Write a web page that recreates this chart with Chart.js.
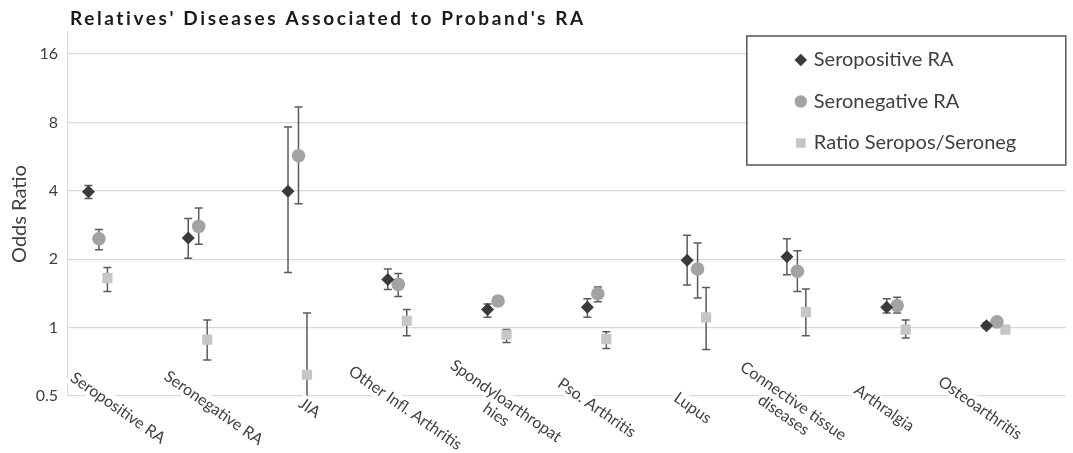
<!DOCTYPE html>
<html>
<head>
<meta charset="utf-8">
<script src="https://cdn.jsdelivr.net/npm/chart.js@4.4.1/dist/chart.umd.min.js"></script>
<style>
  html, body { margin: 0; padding: 0; background: #fff; }
</style>
</head>
<body>
<canvas id="orChart" width="1073" height="453"></canvas>
<script>
// Relatives' diseases (two-line labels kept as in the figure)
const categories = [
    ['Seropositive RA'], ['Seronegative RA'], ['JIA'], ['Other Infl. Arthritis'],
    ['Spondyloarthropat', 'hies'], ['Pso. Arthritis'], ['Lupus'],
    ['Connective tissue', 'diseases'], ['Arthralgia'], ['Osteoarthritis']
];

// Odds ratios and CI bounds
const seroposOR   = [3.96, 2.48, 3.98, 1.63, 1.20, 1.23, 1.98, 2.05, 1.23, 1.02];
const seroposLow  = [3.70, 2.02, 1.75, 1.47, 1.11, 1.11, 1.54, 1.71, 1.16, 0.99];
const seroposHigh = [4.22, 3.02, 7.64, 1.81, 1.27, 1.34, 2.55, 2.46, 1.34, 1.05];

const seronegOR   = [2.46, 2.79, 5.71, 1.55, 1.31, 1.41, 1.81, 1.77, 1.25, 1.06];
const seronegLow  = [2.20, 2.33, 3.51, 1.37, 1.25, 1.30, 1.35, 1.44, 1.16, 1.03];
const seronegHigh = [2.70, 3.36, 9.36, 1.73, 1.37, 1.51, 2.36, 2.18, 1.36, 1.09];

const ratioOR   = [1.65, 0.886, 0.62, 1.07, 0.93, 0.89, 1.11, 1.17, 0.98, 0.98];
const ratioLow  = [1.44, 0.72, 0.45, 0.92, 0.86, 0.81, 0.80, 0.92, 0.90, 0.95];
const ratioHigh = [1.84, 1.08, 1.16, 1.20, 0.98, 0.96, 1.50, 1.48, 1.08, 1.01];

const yTicks = [0.5, 1, 2, 4, 8, 16];

const TEXT = '#404040';
Chart.defaults.font.family = 'Lato';
Chart.defaults.color = TEXT;

// each series sits at its own offset inside the category slot
function buildPoints(values, low, high, offset) {
    return values.map((v, i) => ({ x: i + offset, y: v, low: low[i], high: high[i] }));
}

const series = [
    { label: 'Seropositive RA', values: seroposOR, low: seroposLow, high: seroposHigh,
      offset: 0.205, color: '#3a3a3a', style: 'rectRot', radius: 6.5 },
    { label: 'Seronegative RA', values: seronegOR, low: seronegLow, high: seronegHigh,
      offset: 0.31, color: '#a3a3a3', style: 'circle', radius: 6.8 },
    { label: 'Ratio Seropos/Seroneg', values: ratioOR, low: ratioLow, high: ratioHigh,
      offset: 0.395, color: '#c6c6c6', style: 'rect', radius: 7.2 }
];

// Error bars drawn under the markers
const errorBars = {
    id: 'errorBars',
    beforeDatasetsDraw(chart) {
        const { ctx, chartArea, scales: { y } } = chart;
        ctx.save();
        ctx.beginPath();
        ctx.rect(chartArea.left, chartArea.top, chartArea.width, chartArea.height);
        ctx.clip();
        ctx.strokeStyle = '#5a5a5a';
        ctx.lineWidth = 1.5;
        chart.data.datasets.forEach((ds, di) => {
            chart.getDatasetMeta(di).data.forEach((pt, i) => {
                const d = ds.data[i];
                const top = y.getPixelForValue(d.high);
                const bot = y.getPixelForValue(d.low);
                ctx.beginPath();
                ctx.moveTo(pt.x, top); ctx.lineTo(pt.x, bot);
                ctx.moveTo(pt.x - 4, top); ctx.lineTo(pt.x + 4, top);
                ctx.moveTo(pt.x - 4, bot); ctx.lineTo(pt.x + 4, bot);
                ctx.stroke();
            });
        });
        ctx.restore();
    }
};

// Rotated category labels with white backing (they cut the 0.5 gridline).
// The label slots are a little narrower than the point slots in the original.
const categoryLabels = {
    id: 'categoryLabels',
    afterDraw(chart) {
        const { ctx, chartArea, scales: { x } } = chart;
        const lh = 17;
        ctx.save();
        ctx.font = '16px Lato';
        ctx.textAlign = 'center';
        ctx.textBaseline = 'middle';
        categories.forEach((lines, i) => {
            const cx = x.getPixelForValue(0.5 + 0.96 * i);
            const cy = chartArea.bottom + 12;
            ctx.save();
            ctx.translate(cx, cy);
            ctx.rotate(35 * Math.PI / 180);
            lines.forEach((t, k) => {
                const ty = (k - (lines.length - 1) / 2) * lh;
                const w = ctx.measureText(t).width;
                ctx.fillStyle = '#fff';
                ctx.fillRect(-w / 2 - 2, ty - lh / 2, w + 4, lh);
                ctx.fillStyle = TEXT;
                ctx.fillText(t, 0, ty);
            });
            ctx.restore();
        });
        ctx.restore();
    }
};

// Title + boxed legend in the top right corner
const titleAndLegend = {
    id: 'titleAndLegend',
    afterDraw(chart) {
        const { ctx, chartArea } = chart;
        ctx.save();
        ctx.font = 'bold 19px Lato';
        ctx.letterSpacing = '2.6px';
        ctx.fillStyle = '#1a1a1a';
        ctx.textAlign = 'left';
        ctx.textBaseline = 'alphabetic';
        ctx.fillText("Relatives' Diseases Associated to Proband's RA", 70, 25);
        ctx.restore();

        const boxW = 319, boxH = 129;
        const bx = chartArea.right - boxW, by = chartArea.top + 4;
        ctx.save();
        ctx.fillStyle = '#fff';
        ctx.fillRect(bx, by, boxW, boxH);
        ctx.strokeStyle = '#555';
        ctx.lineWidth = 1.5;
        ctx.strokeRect(bx, by, boxW, boxH);
        ctx.font = '20px Lato';
        ctx.textBaseline = 'middle';
        ctx.textAlign = 'left';
        series.forEach((s, k) => {
            const iy = by + 24 + k * 41.5;
            ctx.fillStyle = s.color;
            ctx.strokeStyle = s.color;
            Chart.helpers.drawPoint(ctx, { pointStyle: s.style, rotation: 0, radius: s.radius * 0.8, borderWidth: 1 }, bx + 54, iy);
            ctx.fillStyle = TEXT;
            ctx.fillText(s.label, bx + 67, iy);
        });
        ctx.restore();
    }
};

const ctx = document.getElementById('orChart');
new Chart(ctx, {
    type: 'scatter',
    data: {
        datasets: series.map(s => ({
            label: s.label,
            data: buildPoints(s.values, s.low, s.high, s.offset),
            pointStyle: s.style,
            pointRadius: s.radius,
            pointHoverRadius: s.radius,
            backgroundColor: s.color,
            borderColor: s.color,
            pointBorderWidth: 0,
            showLine: false
        }))
    },
    options: {
        responsive: false,
        devicePixelRatio: 1,
        animation: false,
        layout: { padding: { top: 32, right: 5, bottom: 57, left: 0 } },
        plugins: {
            legend: { display: false },
            title: { display: false },
            tooltip: { enabled: false }
        },
        scales: {
            x: { type: 'linear', min: 0, max: 10, display: false },
            y: {
                type: 'logarithmic',
                min: 0.5,
                max: 20,
                afterBuildTicks: (scale) => { scale.ticks = yTicks.map(v => ({ value: v })); },
                afterFit: (scale) => { scale.width = 68; },
                ticks: {
                    callback: (v) => String(v),
                    color: TEXT,
                    font: { size: 16 },
                    padding: 10
                },
                grid: { color: '#d9d9d9', lineWidth: 1.2, drawTicks: false },
                border: { color: '#d9d9d9', width: 1.2 },
                title: {
                    display: true,
                    text: 'Odds Ratio',
                    color: TEXT,
                    font: { size: 20 },
                    padding: { top: 8, bottom: 0 }
                }
            }
        }
    },
    plugins: [errorBars, categoryLabels, titleAndLegend]
});
</script>
</body>
</html>
